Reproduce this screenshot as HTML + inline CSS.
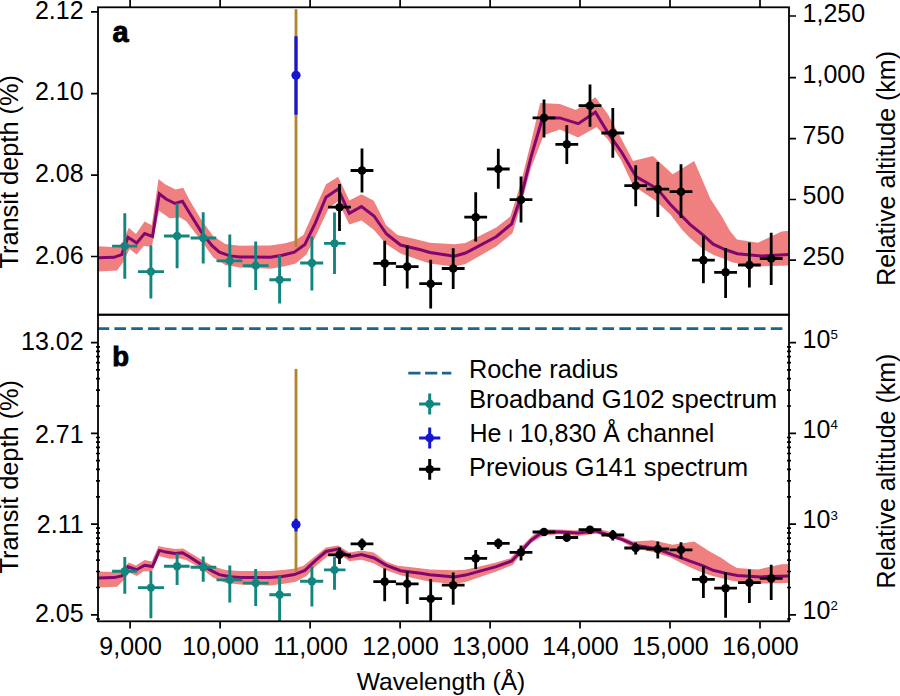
<!DOCTYPE html>
<html><head><meta charset="utf-8"><style>
html,body{margin:0;padding:0;background:#fff;width:900px;height:696px;overflow:hidden}
svg{display:block;font-family:"Liberation Sans",sans-serif}
</style></head><body>
<svg width="900" height="696" viewBox="0 0 900 696">
<defs><clipPath id="ca"><rect x="98.0" y="7.3" width="691.0" height="307.4"/></clipPath><clipPath id="cb"><rect x="98.0" y="314.7" width="691.0" height="306.59999999999997"/></clipPath></defs>
<rect width="900" height="696" fill="#fff"/>
<polygon points="98.0,246.3 117.0,247.3 122.0,243.0 128.8,227.7 135.9,234.0 144.6,221.4 151.8,225.3 158.5,179.0 165.1,184.3 175.6,189.6 183.2,187.8 189.2,199.4 201.3,219.8 213.3,236.3 225.4,243.9 240.0,245.8 270.2,245.4 285.3,243.2 295.0,240.5 303.4,234.9 326.0,184.3 338.1,176.7 349.3,200.5 361.5,194.2 373.8,200.8 386.0,225.0 397.5,235.0 411.8,238.2 430.0,242.8 454.3,244.3 465.5,243.0 496.2,227.5 510.3,216.5 520.0,186.0 531.0,142.0 540.2,103.0 559.8,104.1 575.9,109.9 595.4,97.2 608.0,114.5 621.0,138.0 633.0,161.0 652.9,156.0 672.7,174.2 694.2,161.0 710.5,199.0 721.6,216.0 730.0,231.0 737.0,239.5 757.9,242.7 781.6,231.6 788.5,230.8 788.5,265.5 757.9,266.4 732.6,262.5 725.0,259.3 713.7,255.0 703.2,249.3 690.0,238.0 682.3,230.0 670.2,214.3 655.1,200.2 640.0,190.2 633.3,186.0 621.0,160.0 608.0,139.8 596.6,127.1 578.2,137.5 559.8,129.4 543.7,135.2 531.0,168.0 521.0,205.0 512.6,233.0 496.2,246.5 465.5,264.0 454.3,266.7 430.0,263.5 420.5,260.5 400.6,253.5 386.0,244.0 374.0,230.0 361.5,220.5 349.3,224.5 338.1,201.5 329.0,207.7 315.4,236.4 306.4,254.5 295.8,263.6 283.8,266.6 270.2,268.8 240.0,267.5 225.4,265.0 213.3,257.4 201.3,240.9 186.2,221.3 180.2,217.5 169.6,218.2 159.0,210.7 151.8,246.7 143.8,245.9 136.7,254.6 129.6,249.0 123.3,262.0 117.0,270.6 98.0,271.5" fill="#f08080" clip-path="url(#ca)"/>
<polyline points="98.0,257.8 114.0,257.3 121.7,254.6 128.0,237.2 136.7,243.0 144.6,233.6 152.5,236.4 159.3,193.8 166.0,199.0 175.0,203.5 182.4,201.3 189.4,212.8 201.3,231.8 211.8,245.4 219.4,252.2 229.9,255.9 240.0,256.9 270.2,257.2 282.3,255.3 294.3,252.2 304.9,244.5 315.4,222.8 326.0,197.2 338.1,189.0 349.3,213.3 361.5,206.5 374.0,216.0 386.5,234.0 400.6,245.0 420.5,249.8 430.0,252.5 454.3,256.2 465.5,253.0 496.2,236.7 511.7,223.8 521.5,195.0 531.0,157.0 542.5,118.0 559.8,117.9 578.2,123.7 595.4,112.2 608.0,132.9 621.8,152.5 636.0,176.6 657.1,188.6 670.2,204.2 690.0,224.3 703.2,235.2 713.2,244.2 725.0,249.5 737.4,253.7 761.1,256.1 788.5,254.5" fill="none" stroke="#82066f" stroke-width="3.0" stroke-linejoin="miter" clip-path="url(#ca)"/>
<path d="M112.1 246.1H137.3M124.8 213.3V278.7" stroke="#12857f" stroke-width="2.9" fill="none" clip-path="url(#ca)"/>
<circle cx="124.8" cy="246.1" r="4.2" fill="#12857f"/>
<path d="M137.9 271.6H164.0M150.9 245.5V298.4" stroke="#12857f" stroke-width="2.9" fill="none" clip-path="url(#ca)"/>
<circle cx="150.9" cy="271.6" r="4.2" fill="#12857f"/>
<path d="M164.0 236.0H189.6M177.1 203.2V268.2" stroke="#12857f" stroke-width="2.9" fill="none" clip-path="url(#ca)"/>
<circle cx="177.1" cy="236.0" r="4.2" fill="#12857f"/>
<path d="M190.6 238.0H216.3M203.2 212.3V263.6" stroke="#12857f" stroke-width="2.9" fill="none" clip-path="url(#ca)"/>
<circle cx="203.2" cy="238.0" r="4.2" fill="#12857f"/>
<path d="M216.5 260.9H242.3M229.8 234.4V287.2" stroke="#12857f" stroke-width="2.9" fill="none" clip-path="url(#ca)"/>
<circle cx="229.8" cy="260.9" r="4.2" fill="#12857f"/>
<path d="M242.8 265.6H268.6M255.7 241.5V290.0" stroke="#12857f" stroke-width="2.9" fill="none" clip-path="url(#ca)"/>
<circle cx="255.7" cy="265.6" r="4.2" fill="#12857f"/>
<path d="M269.3 279.7H290.9M279.6 254.9V303.4" stroke="#12857f" stroke-width="2.9" fill="none" clip-path="url(#ca)"/>
<circle cx="279.6" cy="279.7" r="4.2" fill="#12857f"/>
<path d="M300.1 263.0H323.2M311.9 236.5V290.4" stroke="#12857f" stroke-width="2.9" fill="none" clip-path="url(#ca)"/>
<circle cx="311.9" cy="263.0" r="4.2" fill="#12857f"/>
<path d="M324.0 243.4H345.5M334.5 212.5V274.1" stroke="#12857f" stroke-width="2.9" fill="none" clip-path="url(#ca)"/>
<circle cx="334.5" cy="243.4" r="4.2" fill="#12857f"/>
<path d="M328.1 207.2H350.9M339.5 184.0V230.9" stroke="#000" stroke-width="2.8" fill="none" clip-path="url(#ca)"/>
<circle cx="339.5" cy="207.2" r="4.3" fill="#000"/>
<path d="M350.6 170.5H373.4M362.0 148.6V192.5" stroke="#000" stroke-width="2.8" fill="none" clip-path="url(#ca)"/>
<circle cx="362.0" cy="170.5" r="4.3" fill="#000"/>
<path d="M373.3 263.4H396.1M384.7 240.7V286.1" stroke="#000" stroke-width="2.8" fill="none" clip-path="url(#ca)"/>
<circle cx="384.7" cy="263.4" r="4.3" fill="#000"/>
<path d="M395.8 266.6H418.6M407.2 245.5V288.5" stroke="#000" stroke-width="2.8" fill="none" clip-path="url(#ca)"/>
<circle cx="407.2" cy="266.6" r="4.3" fill="#000"/>
<path d="M419.3 283.7H442.1M430.7 259.7V308.6" stroke="#000" stroke-width="2.8" fill="none" clip-path="url(#ca)"/>
<circle cx="430.7" cy="283.7" r="4.3" fill="#000"/>
<path d="M441.8 268.5H464.6M453.2 248.2V289.0" stroke="#000" stroke-width="2.8" fill="none" clip-path="url(#ca)"/>
<circle cx="453.2" cy="268.5" r="4.3" fill="#000"/>
<path d="M464.3 217.2H487.1M475.7 192.3V241.5" stroke="#000" stroke-width="2.8" fill="none" clip-path="url(#ca)"/>
<circle cx="475.7" cy="217.2" r="4.3" fill="#000"/>
<path d="M486.9 169.0H509.7M498.3 148.8V188.7" stroke="#000" stroke-width="2.8" fill="none" clip-path="url(#ca)"/>
<circle cx="498.3" cy="169.0" r="4.3" fill="#000"/>
<path d="M509.6 199.7H532.4M521.0 176.6V222.5" stroke="#000" stroke-width="2.8" fill="none" clip-path="url(#ca)"/>
<circle cx="521.0" cy="199.7" r="4.3" fill="#000"/>
<path d="M532.6 117.8H555.4M544.0 99.6V137.4" stroke="#000" stroke-width="2.8" fill="none" clip-path="url(#ca)"/>
<circle cx="544.0" cy="117.8" r="4.3" fill="#000"/>
<path d="M555.4 144.3H578.2M566.8 125.3V163.9" stroke="#000" stroke-width="2.8" fill="none" clip-path="url(#ca)"/>
<circle cx="566.8" cy="144.3" r="4.3" fill="#000"/>
<path d="M578.6 105.7H601.4M590.0 84.5V126.8" stroke="#000" stroke-width="2.8" fill="none" clip-path="url(#ca)"/>
<circle cx="590.0" cy="105.7" r="4.3" fill="#000"/>
<path d="M601.4 133.0H624.2M612.8 108.1V157.7" stroke="#000" stroke-width="2.8" fill="none" clip-path="url(#ca)"/>
<circle cx="612.8" cy="133.0" r="4.3" fill="#000"/>
<path d="M624.3 185.7H647.1M635.7 165.3V206.2" stroke="#000" stroke-width="2.8" fill="none" clip-path="url(#ca)"/>
<circle cx="635.7" cy="185.7" r="4.3" fill="#000"/>
<path d="M646.4 189.1H669.2M657.8 162.0V217.1" stroke="#000" stroke-width="2.8" fill="none" clip-path="url(#ca)"/>
<circle cx="657.8" cy="189.1" r="4.3" fill="#000"/>
<path d="M669.6 191.7H692.4M681.0 164.3V218.1" stroke="#000" stroke-width="2.8" fill="none" clip-path="url(#ca)"/>
<circle cx="681.0" cy="191.7" r="4.3" fill="#000"/>
<path d="M692.0 260.1H714.8M703.4 236.0V283.2" stroke="#000" stroke-width="2.8" fill="none" clip-path="url(#ca)"/>
<circle cx="703.4" cy="260.1" r="4.3" fill="#000"/>
<path d="M714.2 272.3H737.0M725.6 247.9V298.1" stroke="#000" stroke-width="2.8" fill="none" clip-path="url(#ca)"/>
<circle cx="725.6" cy="272.3" r="4.3" fill="#000"/>
<path d="M738.0 265.0H760.8M749.4 242.6V287.5" stroke="#000" stroke-width="2.8" fill="none" clip-path="url(#ca)"/>
<circle cx="749.4" cy="265.0" r="4.3" fill="#000"/>
<path d="M759.8 258.5H782.6M771.2 232.7V284.9" stroke="#000" stroke-width="2.8" fill="none" clip-path="url(#ca)"/>
<circle cx="771.2" cy="258.5" r="4.3" fill="#000"/>
<line x1="296" y1="9.2" x2="296" y2="247" stroke="#b0852c" stroke-width="2.8"/>
<line x1="296" y1="36.2" x2="296" y2="114.7" stroke="#1616d2" stroke-width="3.2"/>
<circle cx="296" cy="75.3" r="4.6" fill="#1616d2"/>
<polygon points="98.0,571.4 117.0,571.9 122.0,569.7 128.8,562.6 135.9,565.4 144.6,560.0 151.8,561.6 158.5,546.1 165.1,547.6 175.6,549.1 183.2,548.6 189.2,552.2 201.3,559.4 213.3,566.4 225.4,570.1 240.0,571.1 270.2,570.9 285.3,569.8 295.0,568.4 303.4,565.8 326.0,547.6 338.1,545.4 349.3,552.5 361.5,550.5 373.8,552.6 386.0,561.5 397.5,565.8 411.8,567.3 430.0,569.6 454.3,570.3 465.5,569.7 496.2,562.5 510.3,558.2 520.0,548.1 531.0,537.0 540.2,529.2 559.8,529.4 575.9,530.5 595.4,528.2 608.0,531.3 621.0,536.1 633.0,541.4 652.9,540.2 672.7,544.8 694.2,541.4 710.5,552.1 721.6,558.0 730.0,564.0 737.0,567.9 757.9,569.5 781.6,564.3 788.5,563.9 788.5,583.0 757.9,583.7 732.6,581.0 725.0,578.9 713.7,576.2 703.2,573.0 690.0,567.2 682.3,563.6 670.2,557.3 655.1,552.4 640.0,549.3 633.3,548.1 621.0,541.1 608.0,536.5 596.6,533.8 578.2,536.0 559.8,534.3 543.7,535.5 531.0,543.1 521.0,554.0 512.6,564.9 496.2,571.5 465.5,582.0 454.3,583.9 430.0,581.7 420.5,579.7 400.6,575.3 386.0,570.2 374.0,563.6 361.5,559.7 349.3,561.3 338.1,552.9 329.0,555.0 315.4,566.5 306.4,575.9 295.8,581.7 283.8,583.8 270.2,585.5 240.0,584.5 225.4,582.7 213.3,577.7 201.3,568.6 186.2,560.0 180.2,558.5 169.6,558.8 159.0,556.0 151.8,571.6 143.8,571.2 136.7,576.0 129.6,572.8 123.3,580.6 117.0,586.8 98.0,587.5" fill="#f08080" clip-path="url(#cb)"/>
<polyline points="98.0,577.9 114.0,577.6 121.7,576.0 128.0,566.8 136.7,569.7 144.6,565.2 152.5,566.5 159.3,550.4 166.0,552.1 175.0,553.5 182.4,552.8 189.4,556.8 201.3,564.4 211.8,570.9 219.4,574.6 229.9,576.8 240.0,577.4 270.2,577.6 282.3,576.4 294.3,574.6 304.9,570.4 315.4,560.6 326.0,551.5 338.1,549.0 349.3,557.0 361.5,554.6 374.0,558.0 386.5,565.4 400.6,570.7 420.5,573.2 430.0,574.8 454.3,577.0 465.5,575.1 496.2,566.6 511.7,561.0 521.5,550.8 531.0,540.4 542.5,532.0 559.8,532.0 578.2,533.1 595.4,530.9 608.0,535.0 621.8,539.3 636.0,545.4 657.1,548.8 670.2,553.8 690.0,561.2 703.2,565.9 713.2,570.3 725.0,573.1 737.4,575.5 761.1,576.9 788.5,575.9" fill="none" stroke="#82066f" stroke-width="3.0" stroke-linejoin="miter" clip-path="url(#cb)"/>
<path d="M112.1 571.3H137.3M124.8 557.0V593.7" stroke="#12857f" stroke-width="2.9" fill="none" clip-path="url(#cb)"/>
<circle cx="124.8" cy="571.3" r="4.2" fill="#12857f"/>
<path d="M137.9 587.6H164.0M150.9 570.9V618.3" stroke="#12857f" stroke-width="2.9" fill="none" clip-path="url(#cb)"/>
<circle cx="150.9" cy="587.6" r="4.2" fill="#12857f"/>
<path d="M164.0 566.3H189.6M177.1 553.4V585.0" stroke="#12857f" stroke-width="2.9" fill="none" clip-path="url(#cb)"/>
<circle cx="177.1" cy="566.3" r="4.2" fill="#12857f"/>
<path d="M190.6 567.2H216.3M203.2 556.6V581.7" stroke="#12857f" stroke-width="2.9" fill="none" clip-path="url(#cb)"/>
<circle cx="203.2" cy="567.2" r="4.2" fill="#12857f"/>
<path d="M216.5 579.9H242.3M229.8 565.5V602.5" stroke="#12857f" stroke-width="2.9" fill="none" clip-path="url(#cb)"/>
<circle cx="229.8" cy="579.9" r="4.2" fill="#12857f"/>
<path d="M242.8 583.1H268.6M255.7 568.9V605.9" stroke="#12857f" stroke-width="2.9" fill="none" clip-path="url(#cb)"/>
<circle cx="255.7" cy="583.1" r="4.2" fill="#12857f"/>
<path d="M269.3 594.7H290.9M279.6 576.2V628.1" stroke="#12857f" stroke-width="2.9" fill="none" clip-path="url(#cb)"/>
<circle cx="279.6" cy="594.7" r="4.2" fill="#12857f"/>
<path d="M300.1 581.3H323.2M311.9 566.5V606.4" stroke="#12857f" stroke-width="2.9" fill="none" clip-path="url(#cb)"/>
<circle cx="311.9" cy="581.3" r="4.2" fill="#12857f"/>
<path d="M324.0 569.9H345.5M334.5 556.7V589.7" stroke="#12857f" stroke-width="2.9" fill="none" clip-path="url(#cb)"/>
<circle cx="334.5" cy="569.9" r="4.2" fill="#12857f"/>
<path d="M328.1 554.8H350.9M339.5 547.5V564.0" stroke="#000" stroke-width="2.8" fill="none" clip-path="url(#cb)"/>
<circle cx="339.5" cy="554.8" r="4.3" fill="#000"/>
<path d="M350.6 543.8H373.4M362.0 538.4V550.0" stroke="#000" stroke-width="2.8" fill="none" clip-path="url(#cb)"/>
<circle cx="362.0" cy="543.8" r="4.3" fill="#000"/>
<path d="M373.3 581.6H396.1M384.7 568.5V601.3" stroke="#000" stroke-width="2.8" fill="none" clip-path="url(#cb)"/>
<circle cx="384.7" cy="581.6" r="4.3" fill="#000"/>
<path d="M395.8 583.8H418.6M407.2 570.9V604.1" stroke="#000" stroke-width="2.8" fill="none" clip-path="url(#cb)"/>
<circle cx="407.2" cy="583.8" r="4.3" fill="#000"/>
<path d="M419.3 598.7H442.1M430.7 579.1V641.8" stroke="#000" stroke-width="2.8" fill="none" clip-path="url(#cb)"/>
<circle cx="430.7" cy="598.7" r="4.3" fill="#000"/>
<path d="M441.8 585.2H464.6M453.2 572.4V604.7" stroke="#000" stroke-width="2.8" fill="none" clip-path="url(#cb)"/>
<circle cx="453.2" cy="585.2" r="4.3" fill="#000"/>
<path d="M464.3 558.4H487.1M475.7 550.0V568.9" stroke="#000" stroke-width="2.8" fill="none" clip-path="url(#cb)"/>
<circle cx="475.7" cy="558.4" r="4.3" fill="#000"/>
<path d="M486.9 543.4H509.7M498.3 538.5V548.9" stroke="#000" stroke-width="2.8" fill="none" clip-path="url(#cb)"/>
<circle cx="498.3" cy="543.4" r="4.3" fill="#000"/>
<path d="M509.6 552.3H532.4M521.0 545.4V560.5" stroke="#000" stroke-width="2.8" fill="none" clip-path="url(#cb)"/>
<circle cx="521.0" cy="552.3" r="4.3" fill="#000"/>
<path d="M532.6 532.0H555.4M544.0 528.6V536.0" stroke="#000" stroke-width="2.8" fill="none" clip-path="url(#cb)"/>
<circle cx="544.0" cy="532.0" r="4.3" fill="#000"/>
<path d="M555.4 537.5H578.2M566.8 533.5V542.1" stroke="#000" stroke-width="2.8" fill="none" clip-path="url(#cb)"/>
<circle cx="566.8" cy="537.5" r="4.3" fill="#000"/>
<path d="M578.6 529.7H601.4M590.0 526.0V533.8" stroke="#000" stroke-width="2.8" fill="none" clip-path="url(#cb)"/>
<circle cx="590.0" cy="529.7" r="4.3" fill="#000"/>
<path d="M601.4 535.0H624.2M612.8 530.1V540.6" stroke="#000" stroke-width="2.8" fill="none" clip-path="url(#cb)"/>
<circle cx="612.8" cy="535.0" r="4.3" fill="#000"/>
<path d="M624.3 548.0H647.1M635.7 542.5V554.5" stroke="#000" stroke-width="2.8" fill="none" clip-path="url(#cb)"/>
<circle cx="635.7" cy="548.0" r="4.3" fill="#000"/>
<path d="M646.4 549.0H669.2M657.8 541.6V558.4" stroke="#000" stroke-width="2.8" fill="none" clip-path="url(#cb)"/>
<circle cx="657.8" cy="549.0" r="4.3" fill="#000"/>
<path d="M669.6 549.8H692.4M681.0 542.2V558.8" stroke="#000" stroke-width="2.8" fill="none" clip-path="url(#cb)"/>
<circle cx="681.0" cy="549.8" r="4.3" fill="#000"/>
<path d="M692.0 579.4H714.8M703.4 566.3V598.1" stroke="#000" stroke-width="2.8" fill="none" clip-path="url(#cb)"/>
<circle cx="703.4" cy="579.4" r="4.3" fill="#000"/>
<path d="M714.2 588.2H737.0M725.6 572.2V617.8" stroke="#000" stroke-width="2.8" fill="none" clip-path="url(#cb)"/>
<circle cx="725.6" cy="588.2" r="4.3" fill="#000"/>
<path d="M738.0 582.7H760.8M749.4 569.5V602.9" stroke="#000" stroke-width="2.8" fill="none" clip-path="url(#cb)"/>
<circle cx="749.4" cy="582.7" r="4.3" fill="#000"/>
<path d="M759.8 578.4H782.6M771.2 564.8V599.9" stroke="#000" stroke-width="2.8" fill="none" clip-path="url(#cb)"/>
<circle cx="771.2" cy="578.4" r="4.3" fill="#000"/>
<line x1="296" y1="368.9" x2="296" y2="571.7" stroke="#b0852c" stroke-width="2.8"/>
<line x1="296" y1="518.7" x2="296" y2="531.4" stroke="#1616d2" stroke-width="3.2"/>
<circle cx="296" cy="524.5" r="4.6" fill="#1616d2"/>
<line x1="97.6" y1="328.6" x2="783.5" y2="328.6" stroke="#1e6490" stroke-width="2.6" stroke-dasharray="11.6 5.23"/>
<rect x="98.0" y="7.3" width="691.0" height="307.4" stroke="#000" stroke-width="1.8" fill="none"/>
<rect x="98.0" y="314.7" width="691.0" height="306.59999999999997" stroke="#000" stroke-width="1.8" fill="none"/>
<path d="M130.1 621.3V628.4M130.1 0V7.3M220.1 621.3V628.4M220.1 0V7.3M310.1 621.3V628.4M310.1 0V7.3M400.1 621.3V628.4M400.1 0V7.3M490.1 621.3V628.4M490.1 0V7.3M580.0 621.3V628.4M580.0 0V7.3M670.0 621.3V628.4M670.0 0V7.3M760.0 621.3V628.4M760.0 0V7.3M91 11.9H98.0M91 93.6H98.0M91 175.1H98.0M91 256.5H98.0M789.0 16H796M789.0 77.6H796M789.0 138.6H796M789.0 199.5H796M789.0 260.1H796M91 614.8H98.0M789.0 614.8H796M91 524.1H98.0M789.0 524.1H796M91 433.3H98.0M789.0 433.3H796M91 342.6H98.0M789.0 342.6H796M96.0 587.5H100.0M787.0 587.5H791.0M96.0 571.5H100.0M787.0 571.5H791.0M96.0 560.2H100.0M787.0 560.2H791.0M96.0 551.4H100.0M787.0 551.4H791.0M96.0 544.2H100.0M787.0 544.2H791.0M96.0 538.1H100.0M787.0 538.1H791.0M96.0 532.9H100.0M787.0 532.9H791.0M96.0 528.2H100.0M787.0 528.2H791.0M96.0 496.8H100.0M787.0 496.8H791.0M96.0 480.8H100.0M787.0 480.8H791.0M96.0 469.4H100.0M787.0 469.4H791.0M96.0 460.7H100.0M787.0 460.7H791.0M96.0 453.5H100.0M787.0 453.5H791.0M96.0 447.4H100.0M787.0 447.4H791.0M96.0 442.1H100.0M787.0 442.1H791.0M96.0 437.5H100.0M787.0 437.5H791.0M96.0 406.0H100.0M787.0 406.0H791.0M96.0 390.1H100.0M787.0 390.1H791.0M96.0 378.7H100.0M787.0 378.7H791.0M96.0 369.9H100.0M787.0 369.9H791.0M96.0 362.7H100.0M787.0 362.7H791.0M96.0 356.7H100.0M787.0 356.7H791.0M96.0 351.4H100.0M787.0 351.4H791.0M96.0 346.8H100.0M787.0 346.8H791.0M96.0 619.0H100.0M787.0 619.0H791.0" stroke="#000" stroke-width="1.7" fill="none"/>
<line x1="408.3" y1="373.1" x2="451.3" y2="373.1" stroke="#1e6490" stroke-width="2.6" stroke-dasharray="12.2 4.6"/>
<path d="M419.1 403.9H440.3M429.7 393.59999999999997V414.4" stroke="#12857f" stroke-width="3"/><circle cx="429.7" cy="403.9" r="4.3" fill="#12857f"/>
<path d="M419.1 437.9H440.3M429.7 427.59999999999997V448.4" stroke="#1616d2" stroke-width="3"/><circle cx="429.7" cy="437.9" r="4.3" fill="#1616d2"/>
<path d="M419.1 469.3H440.3M429.7 459.0V479.8" stroke="#000" stroke-width="3"/><circle cx="429.7" cy="469.3" r="4.3" fill="#000"/>
<g font-family="Liberation Sans, sans-serif" fill="#000"><text x="83.6" y="19.0" text-anchor="end" font-size="25" >2.12</text>
<text x="83.6" y="99.6" text-anchor="end" font-size="25" >2.10</text>
<text x="83.6" y="182.2" text-anchor="end" font-size="25" >2.08</text>
<text x="83.6" y="263.6" text-anchor="end" font-size="25" >2.06</text>
<text x="83.6" y="349.5" text-anchor="end" font-size="25" >13.02</text>
<text x="83.6" y="442.7" text-anchor="end" font-size="25" >2.71</text>
<text x="83.6" y="532.7" text-anchor="end" font-size="25" >2.11</text>
<text x="83.6" y="621.8" text-anchor="end" font-size="25" >2.05</text>
<text x="802.6" y="21.8" text-anchor="start" font-size="25" >1,250</text>
<text x="802.6" y="82.8" text-anchor="start" font-size="25" >1,000</text>
<text x="802.6" y="143.6" text-anchor="start" font-size="25" >750</text>
<text x="802.6" y="204.2" text-anchor="start" font-size="25" >500</text>
<text x="802.6" y="264.6" text-anchor="start" font-size="25" >250</text>
<text x="802.6" y="347.7" font-size="25">10<tspan dx="0" dy="-8.4" font-size="13.3">5</tspan></text>
<text x="802.6" y="437.7" font-size="25">10<tspan dx="0" dy="-8.4" font-size="13.3">4</tspan></text>
<text x="802.6" y="528.3" font-size="25">10<tspan dx="0" dy="-8.4" font-size="13.3">3</tspan></text>
<text x="802.6" y="618.6" font-size="25">10<tspan dx="0" dy="-8.4" font-size="13.3">2</tspan></text>
<text x="130.6" y="655.0" text-anchor="middle" font-size="25" >9,000</text>
<text x="220.6" y="655.0" text-anchor="middle" font-size="25" >10,000</text>
<text x="310.6" y="655.0" text-anchor="middle" font-size="25" >11,000</text>
<text x="400.6" y="655.0" text-anchor="middle" font-size="25" >12,000</text>
<text x="490.6" y="655.0" text-anchor="middle" font-size="25" >13,000</text>
<text x="580.5" y="655.0" text-anchor="middle" font-size="25" >14,000</text>
<text x="670.5" y="655.0" text-anchor="middle" font-size="25" >15,000</text>
<text x="760.5" y="655.0" text-anchor="middle" font-size="25" >16,000</text>
<text x="441" y="690.0" text-anchor="middle" font-size="24.6" >Wavelength (Å)</text>
<text transform="translate(18.4,171.8) rotate(-90) scale(1.015,1)" text-anchor="middle" font-size="25">Transit depth (%)</text>
<text transform="translate(18.4,476.7) rotate(-90) scale(1.015,1)" text-anchor="middle" font-size="25">Transit depth (%)</text>
<text transform="translate(894.6,168.4) rotate(-90) scale(1.0,1)" text-anchor="middle" font-size="25">Relative altitude (km)</text>
<text transform="translate(894.6,471) rotate(-90) scale(1.0,1)" text-anchor="middle" font-size="25">Relative altitude (km)</text>
<text x="112.6" y="41.7" font-size="29" font-weight="bold" stroke="#000" stroke-width="0.9">a</text>
<text x="112.3" y="366" font-size="27.5" font-weight="bold" stroke="#000" stroke-width="0.9">b</text>
<text transform="translate(469.0,378.4) scale(1.013,1)" text-anchor="start" font-size="25" >Roche radius</text>
<text transform="translate(469.0,407.6) scale(1.027,1)" text-anchor="start" font-size="25" >Broadband G102 spectrum</text>
<text x="469.5" y="441.6" font-size="25">He</text>
<rect x="509.7" y="429.6" width="1.8" height="12" fill="#000"/>
<text x="519.8" y="441.6" text-anchor="start" font-size="25" >10,830 Å channel</text>
<text transform="translate(469.0,475.8) scale(1.015,1)" text-anchor="start" font-size="25" >Previous G141 spectrum</text></g>
</svg>
</body></html>
